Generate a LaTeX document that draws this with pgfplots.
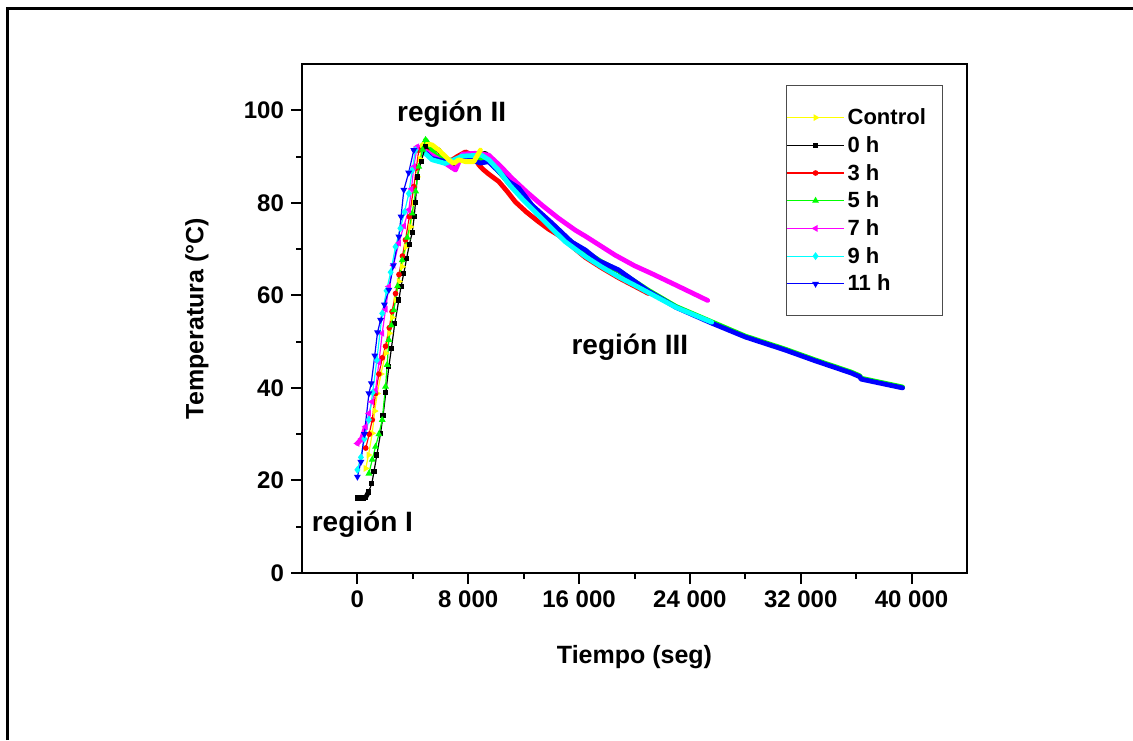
\documentclass[border=0pt]{standalone}
\usepackage{pgfplots}
\pgfplotsset{compat=1.18}
\usepackage{fontspec}
\setmainfont{Liberation Sans}
\definecolor{cY}{RGB}{255,255,0}
\definecolor{cK}{RGB}{0,0,0}
\definecolor{cR}{RGB}{255,0,0}
\definecolor{cG}{RGB}{0,255,0}
\definecolor{cM}{RGB}{255,0,255}
\definecolor{cC}{RGB}{0,255,255}
\definecolor{cB}{RGB}{0,0,255}
\begin{document}
\begin{tikzpicture}
\path[use as bounding box] (0,0) rectangle (566.5pt,370pt);
\draw[line width=1.5pt] (3.5pt,0pt) -- (3.5pt,365.5pt) -- (566.5pt,365.5pt);
\begin{axis}[
  at={(151pt,83.5pt)}, anchor=south west,
  scale only axis, width=332.5pt, height=254.5pt,
  xmin=-4000, xmax=44000, ymin=0, ymax=110,
  scaled x ticks=false,
  xtick={0,8000,16000,24000,32000,40000},
  xticklabels={0,8 000,16 000,24 000,32 000,40 000},
  minor x tick num=1,
  ytick={0,20,40,60,80,100},
  minor y tick num=1,
  tick align=outside,
  xtick pos=bottom, ytick pos=left,
  major tick length=5.5pt, minor tick length=3pt,
  axis line style={line width=1pt},
  every tick/.style={black, line width=1pt},
  /pgf/number format/assume math mode=true,
  tick label style={font=\fontsize{12}{14}\selectfont\bfseries},
  xlabel={Tiempo (seg)}, ylabel={Temperatura (°C)},
  label style={font=\fontsize{12.5}{15}\selectfont\bfseries},
  xlabel style={at={(axis description cs:0.5,-0.165)}, anchor=center},
  ylabel style={at={(axis description cs:-0.158,0.5)}, anchor=center},
  legend cell align=left,
  legend style={at={(0.7276,0.9587)}, anchor=north west, draw=black!70, line width=0.6pt,
    fill=white, font=\fontsize{11}{13}\selectfont\bfseries,
    inner xsep=0pt, inner ysep=10pt, row sep=1.85pt,
    nodes={text height=8pt, text depth=1pt, inner sep=1.5pt}},
  legend image code/.code={\draw[mark repeat=2,mark phase=2] plot coordinates {(0pt,0pt) (14.25pt,0pt) (28.5pt,0pt)};},
  clip=false,
]
% ---- thick plateau / decay parts (drawn first) ----
\addplot[cK, line width=2.4pt, line join=round, line cap=round, forget plot] coordinates {
(0,16.2) (590,16.3) (800,17.5)};
\addplot[cK, line width=2.4pt, line join=round, line cap=round, forget plot] coordinates {
(4910,92.1) (5500,91.8) (5870,91.4) (6110,90.3) (6830,87.6) (7200,88.8) (7560,89.5) (8400,90) (9240,90.7) (10000,88) (10920,84.4) (11640,83) (12600,79.3) (14040,75.4) (15480,71.2) (16450,69.6) (17400,67.3) (18850,65.3) (21010,60.8)};
\addplot[cR, line width=2.4pt, line join=round, line cap=round, forget plot] coordinates {
(4430,91.4) (4900,91.5) (5400,90) (6000,89) (6600,88.8) (7200,90) (7800,91.0) (8400,90.2) (8760,88.2) (9120,87.1) (9480,86.2) (10200,84.6) (10800,82.5) (11400,80.2) (12200,78) (13080,75.9) (13800,74.3) (14520,73.0) (15000,71.8) (16450,68.2) (17600,66) (18850,63.8) (21010,60.4)};
\addplot[cG, line width=2.4pt, line join=round, line cap=round, forget plot] coordinates {
(4920,93.6) (5300,92) (5630,90.3) (6300,89.5) (7080,89) (7800,89.3) (8520,89.5) (9480,89.3) (10000,87.5) (10920,84.2) (12000,80.8) (13500,76.5) (15000,72.5) (16450,69.5) (17600,67.3) (18850,65.3) (21010,61.1) (23000,57.6) (25570,54.3) (28000,51.2) (30860,48.4) (33000,46.1) (35660,43.4) (36270,42.6) (36350,42.1) (39350,40.2)};
\addplot[cM, line width=2.4pt, line join=round, line cap=round, forget plot] coordinates {
(0,28.0) (300,29) (590,31.6)};
\addplot[cM, line width=2.4pt, line join=round, line cap=round, forget plot] coordinates {
(4310,92.1) (4700,91.5) (5150,90.7) (5800,89.5) (6360,88.5) (7080,87.1) (7560,90.5) (8520,90.7) (9480,90.3) (10300,88) (11160,85.3) (12200,82.4) (13320,79.5) (14500,76.7) (15720,74.1) (16450,72.8) (17500,70.8) (18600,68.7) (20000,66.4) (21250,64.7) (23000,62.2) (25280,58.9)};
\addplot[cB, line width=2.4pt, line join=round, line cap=round, forget plot] coordinates {
(4070,91.4) (4500,91.5) (5000,90.6) (5370,89.6) (6360,88.9) (7800,89.7) (8880,88.6) (9480,88.9) (10920,84.6) (11640,83.2) (12600,79.5) (14040,75.6) (15480,71.5) (16450,69.8) (17400,67.5) (18850,65.5) (21010,60.9) (23000,57.4) (25570,54.0) (28000,51.0) (30860,48.2) (33000,45.9) (35660,43.2) (36270,42.4) (36350,41.9) (39350,40.0)};
\addplot[cC, line width=2.4pt, line join=round, line cap=round, forget plot] coordinates {
(4190,91.4) (4700,91.2) (5390,89.3) (6360,88.5) (7560,90.1) (8960,90.3) (9480,89.3) (10200,87) (11000,83.8) (12000,80.5) (13000,77.5) (14040,74.4) (15000,71.6) (16450,68.4) (17600,66.2) (18850,64.0) (20000,62.2) (21010,60.6) (23000,57.4) (25570,54.2)};
\addplot[cY, line width=2.4pt, line join=round, line cap=round, forget plot] coordinates {
(4670,92.1) (4800,92.9) (5400,92.5) (5870,91.4) (6360,90.0) (6590,89.3) (6950,88.5) (7310,89.3) (7800,88.9) (8400,88.9) (8880,91.4)};
% ---- rising parts with markers (legend) ----
\addplot[cY, line width=0.6pt, mark=triangle*, mark size=1.4pt, mark options={rotate=-90}] coordinates {
(600,22.6) (800,25.5) (1070,30.2) (1250,35) (1430,38.8) (1700,43) (2030,47.5) (2300,51.8) (2500,55.2) (2750,59.0) (3000,63) (3230,66.2) (3500,70.5) (3830,74.8) (4100,80) (4310,85.6) (4500,89.5) (4670,92.1)};
\addlegendentry{Control\hspace*{7pt}}
\addplot[cK, line width=0.6pt, mark=square*, mark size=1pt] coordinates {
(0,16.2) (200,16.2) (400,16.2) (590,16.3) (800,17.5) (1045,19.4) (1200,22) (1400,25.5) (1670,30.2) (1850,34) (2050,39) (2270,44.6) (2450,48.5) (2700,54) (2990,59) (3150,62) (3350,64.8) (3550,68) (3750,71) (3950,73.5) (4100,77) (4190,80) (4310,85.6) (4600,89) (4910,92.1)};
\addlegendentry{0 h}
\addplot[cR, line width=0.6pt, mark=*, mark size=1.1pt] coordinates {
(600,27) (850,30) (1070,33.1) (1310,38.8) (1550,43) (1800,46.5) (2030,49) (2300,53) (2500,56.5) (2750,60.4) (3000,64.5) (3250,68.5) (3470,72) (3750,77) (4070,83.5) (4250,87.5) (4430,91.4)};
\addlegendentry{3 h}
\addplot[cG, line width=0.6pt, mark=triangle*, mark size=1.4pt] coordinates {
(830,21.5) (1070,24.5) (1310,27.3) (1550,30) (1790,33.1) (2030,40.3) (2150,45) (2270,50.4) (2450,53.5) (2630,56.8) (2900,62) (3230,67.6) (3600,72.5) (3950,77.7) (4200,82.5) (4430,87.8) (4700,91.5) (4920,93.6)};
\addlegendentry{5 h}
\addplot[cM, line width=0.6pt, mark=triangle*, mark size=1.4pt, mark options={rotate=90}] coordinates {
(0,28.0) (300,29) (590,31.6) (830,34.5) (1050,37) (1310,39.5) (1550,45.5) (1790,51.8) (2030,57) (2270,61.9) (2600,66.5) (2990,71.3) (3350,75) (3710,78.5) (3900,83) (4070,87.8) (4310,92.1)};
\addlegendentry{7 h}
\addplot[cC, line width=0.6pt, mark=diamond*, mark size=1.5pt] coordinates {
(0,22.3) (250,25) (500,29) (830,33.1) (1100,39) (1400,46) (1790,56.1) (2100,61) (2400,65) (2750,70.5) (3100,74.5) (3400,78) (3710,82) (3950,87) (4190,91.4)};
\addlegendentry{9 h}
\addplot[cB, line width=0.6pt, mark=triangle*, mark size=1.4pt, mark options={rotate=180}] coordinates {
(0,20.8) (250,24) (500,30) (830,38.8) (1000,41) (1250,47) (1450,52) (1670,54.7) (1950,58) (2270,61.2) (2600,66.5) (2990,72.7) (3150,77) (3350,82.8) (3700,86.5) (4070,91.4)};
\addlegendentry{11 h}
% ---- region labels ----
\node[font=\fontsize{14}{16}\selectfont\bfseries] at (axis cs:6800,99.2) {región II};
\node[font=\fontsize{14}{16}\selectfont\bfseries] at (axis cs:360,10.6) {región I};
\node[font=\fontsize{14}{16}\selectfont\bfseries] at (axis cs:19670,48.8) {región III};
\end{axis}
\end{tikzpicture}
\end{document}
